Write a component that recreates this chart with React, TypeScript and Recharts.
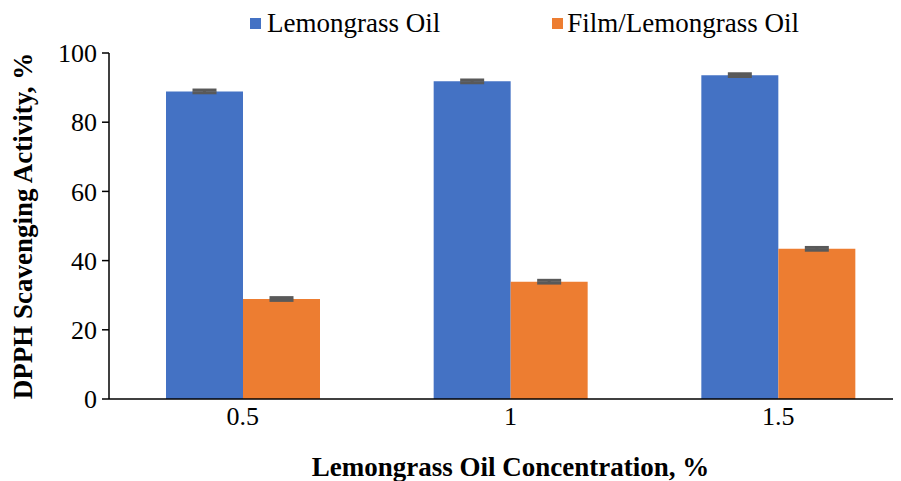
import { BarChart, Bar, XAxis, YAxis, Legend, ErrorBar } from 'recharts';

const concentrations = ['0.5', '1', '1.5'];
const lemongrassOil = [88.9, 91.8, 93.6];
const filmLemongrassOil = [28.9, 33.9, 43.4];
const lemongrassErr = [0.4, 0.4, 0.4];
const filmErr = [0.4, 0.4, 0.4];
const yTicks = [0, 20, 40, 60, 80, 100];

const data = concentrations.map((c, i) => ({
  conc: c,
  oil: lemongrassOil[i],
  oilErr: lemongrassErr[i],
  film: filmLemongrassOil[i],
  filmErr: filmErr[i],
}));

const font = '"Liberation Serif", "Times New Roman", serif';

const renderLegend = () => (
  <div style={{ display: 'flex', alignItems: 'center', fontFamily: font, fontSize: 27, color: '#000', lineHeight: '30px' }}>
    <span style={{ width: 11, height: 11, background: '#4472C4', display: 'inline-block', marginRight: 6 }} />
    <span style={{ marginRight: 112 }}>Lemongrass Oil</span>
    <span style={{ width: 11, height: 11, background: '#ED7D31', display: 'inline-block', marginRight: 4 }} />
    <span>Film/Lemongrass Oil</span>
  </div>
);

export default function App() {
  return (
    <div style={{ width: 893, height: 473, overflow: 'hidden' }}>
      <BarChart
        width={905}
        height={473}
        data={data}
        barGap={0}
        barSize={77}
        margin={{ top: 15, right: 1, left: 0, bottom: 0 }}>
        <Legend
          verticalAlign='top'
          content={renderLegend}
          wrapperStyle={{ top: 0, left: 242, width: 'auto' }}
        />
        <XAxis
          dataKey='conc'
          height={82}
          tickLine={false}
          tickMargin={2}
          axisLine={{ stroke: '#000', strokeWidth: 1.5 }}
          tick={{ fill: '#000', fontSize: 26, fontFamily: font }}
          label={{
            value: 'Lemongrass Oil Concentration, %',
            position: 'insideBottom',
            offset: 5,
            style: { fill: '#000', fontSize: 27, fontWeight: 'bold', fontFamily: font },
          }}
        />
        <YAxis
          width={101}
          domain={[0, 100]}
          ticks={yTicks}
          tickSize={7}
          tickMargin={5}
          axisLine={{ stroke: '#000', strokeWidth: 1.5 }}
          tickLine={{ stroke: '#000', strokeWidth: 1.5 }}
          tick={{ fill: '#000', fontSize: 26, fontFamily: font }}
          label={{
            value: 'DPPH Scavenging Activity, %',
            angle: -90,
            position: 'insideLeft',
            offset: 14,
            style: { fill: '#000', fontSize: 27, fontWeight: 'bold', fontFamily: font, textAnchor: 'middle' },
          }}
        />
        <Bar dataKey='oil' fill='#4472C4' isAnimationActive={false}>
          <ErrorBar dataKey='oilErr' width={12} strokeWidth={3} stroke='#595959' />
        </Bar>
        <Bar dataKey='film' fill='#ED7D31' isAnimationActive={false}>
          <ErrorBar dataKey='filmErr' width={12} strokeWidth={3} stroke='#595959' />
        </Bar>
      </BarChart>
    </div>
  );
}
